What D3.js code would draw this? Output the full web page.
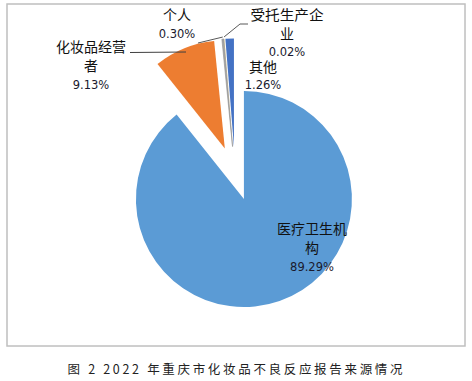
<!DOCTYPE html>
<html><head><meta charset="utf-8">
<script src="https://cdn.jsdelivr.net/npm/d3@7"></script>
<style>
html,body{margin:0;padding:0;background:#fff;}
svg{display:block;}
</style></head>
<body>
<script>
// ---- data ----
const categories = ["医疗卫生机构","化妆品经营者","个人","受托生产企业","其他"];
const values = [89.29, 9.13, 0.30, 0.02, 1.26];
const valueLabels = ["89.29%","9.13%","0.30%","0.02%","1.26%"];
const colors = ["#5B9BD5","#ED7D31","#A5A5A5","#FFC000","#4472C4"];
const caption = "图 2 2022 年重庆市化妆品不良反应报告来源情况";

// ---- layout ----
const W = 472, H = 381;
const cx = 235, cy = 173.5, R = 108, explode = 27;
const labelLayout = [
  {lines:["医疗卫生机","构"], x:312, y:234, pctY:271},
  {lines:["化妆品经营","者"], x:91, y:52, pctY:89, anchorLine:[[130,52.5],[186,52]]},
  {lines:["个人"], x:177, y:20, pctY:38, leader:[[198,43]]},
  {lines:["受托生产企","业"], x:287, y:20, pctY:55.5, leader:[[248,24],[240,24]], firstLen:73},
  {lines:["其他"], x:263, y:71.5, pctY:89}
];

const svg = d3.select("body").append("svg").attr("width", W).attr("height", H);

svg.append("rect").attr("x",7).attr("y",4).attr("width",458).attr("height",342)
  .attr("fill","#fff").attr("stroke","#BFBFBF").attr("stroke-width",1.5);

const pie = d3.pie().sort(null).value(d => d).startAngle(0).endAngle(2*Math.PI);
const arcs = pie(values);
const arc = d3.arc().innerRadius(0).outerRadius(R);

function offset(a){
  const m = (a.startAngle + a.endAngle)/2;
  return [explode*Math.sin(m), -explode*Math.cos(m)];
}

const g = svg.append("g").attr("transform", `translate(${cx},${cy})`);
g.selectAll("path.slice").data(arcs).enter().append("path")
  .attr("class","slice")
  .attr("transform", d => { const o = offset(d); return `translate(${o[0]},${o[1]})`; })
  .attr("d", arc)
  .attr("fill", (d,i) => colors[i])
  .attr("stroke", (d,i) => i===2 ? "#8f8f8f" : "none")
  .attr("stroke-width", 0.6);

function outerPoint(a, r){
  const m = (a.startAngle + a.endAngle)/2;
  const o = offset(a);
  return [cx + o[0] + r*Math.sin(m), cy + o[1] - r*Math.cos(m)];
}

const leaderG = svg.append("g").attr("fill","none").attr("stroke","#7F7F7F").attr("stroke-width",1);
labelLayout.forEach((L,i) => {
  if (L.leader){
    const p = outerPoint(arcs[i], R+2);
    const pts = L.leader.concat([p]);
    leaderG.append("path").attr("d", d3.line()(pts)).attr("stroke", "#595959");
  }
  if (L.anchorLine){
    leaderG.append("path").attr("d", d3.line()(L.anchorLine)).attr("stroke","#404040");
  }
});

const font = "'Noto Sans CJK SC','Noto Sans',sans-serif";
const lg = svg.append("g").attr("font-family", font).attr("fill","#111");
labelLayout.forEach((L,i) => {
  L.lines.forEach((t,k) => {
    const tx = lg.append("text").attr("x", L.x).attr("y", L.y + k*19)
      .attr("text-anchor","middle").attr("font-size", 14).text(t);
    if (k===0 && L.firstLen){ tx.attr("textLength", L.firstLen).attr("lengthAdjust","spacingAndGlyphs"); }
  });
  lg.append("text").attr("x", L.x).attr("y", L.pctY)
    .attr("text-anchor","middle").attr("font-size", 11.5)
    .attr("font-family","'DejaVu Sans',sans-serif").attr("fill","#1a1a2e")
    .text(valueLabels[i]);
});

svg.append("text").attr("x", 235).attr("y", 374).attr("text-anchor","middle")
  .attr("font-family", font).attr("font-size", 12.5).attr("fill","#222")
  .attr("textLength", 335).attr("lengthAdjust","spacing")
  .text(caption);
</script>
</body></html>
